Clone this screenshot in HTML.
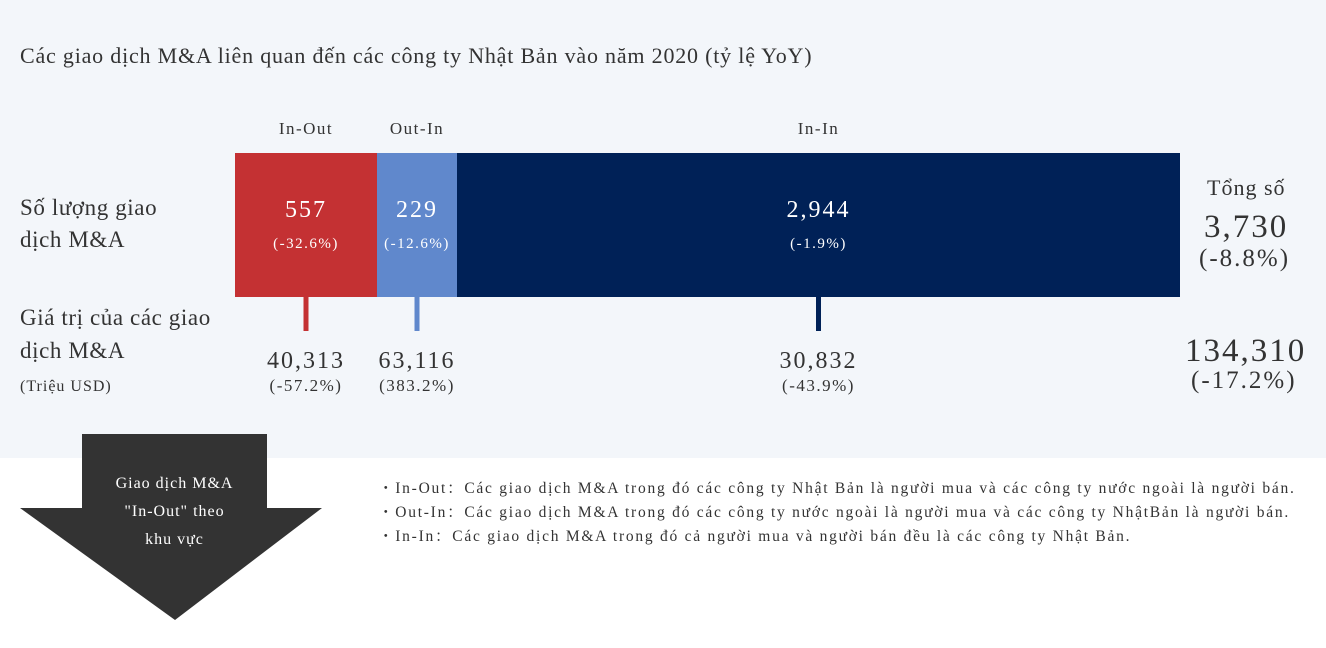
<!DOCTYPE html>
<html><head><meta charset="utf-8"><style>
body{margin:0;width:1326px;height:648px;background:#fff;font-family:"Liberation Serif","Noto Serif CJK SC",serif;color:#333;position:relative;overflow:hidden}
.bg{position:absolute;left:0;top:0;width:1326px;height:458px;background:#f3f6fa}
.t{position:absolute;white-space:nowrap;letter-spacing:1px}
</style></head><body>
<div class="bg"></div>
<div class="t" style="left:20px;top:43px;font-size:22px;letter-spacing:0.8px">Các giao dịch M&amp;A liên quan đến các công ty Nhật Bản vào năm 2020 (tỷ lệ YoY)</div>
<div class="t" style="left:20px;top:192px;font-size:23px;line-height:32px;letter-spacing:0.6px">Số lượng giao<br>dịch M&amp;A</div>
<div class="t" style="left:20px;top:301px;font-size:23px;line-height:33px;letter-spacing:0.6px">Giá trị của các giao<br>dịch M&amp;A<br><span style="font-size:16px;line-height:22px;letter-spacing:1px">(Triệu USD)</span></div>
<svg id="chart" width="1326" height="648" style="position:absolute;left:0;top:0"></svg>
<div class="t" style="left:1207px;top:175px;font-size:22px">Tổng số</div>
<div class="t" style="left:1204px;top:209px;font-size:33px;letter-spacing:2px">3,730</div>
<div class="t" style="left:1199px;top:245px;font-size:25px;letter-spacing:2px">(-8.8%)</div>
<div class="t" style="left:1185px;top:333px;font-size:33px;letter-spacing:2px">134,310</div>
<div class="t" style="left:1191px;top:367px;font-size:25px;letter-spacing:2px">(-17.2%)</div>
<svg width="330" height="200" style="position:absolute;left:0;top:430px">
<polygon points="82,4 267,4 267,78 322,78 175,190 20,78 82,78" fill="#333"/>
</svg>
<div class="t" style="left:82px;top:470px;width:185px;text-align:center;color:#fff;font-size:16px;line-height:28px">Giao dịch M&amp;A<br>"In-Out" theo<br>khu vực</div>
<div class="t" style="left:378px;top:477px;font-size:15.5px;line-height:24px;letter-spacing:1.75px">・In-Out：Các giao dịch M&amp;A trong đó các công ty Nhật Bản là người mua và các công ty nước ngoài là người bán.<br>・Out-In：Các giao dịch M&amp;A trong đó các công ty nước ngoài là người mua và các công ty NhậtBản là người bán.<br>・In-In：Các giao dịch M&amp;A trong đó cả người mua và người bán đều là các công ty Nhật Bản.</div>
<script>
const categories=["In-Out","Out-In","In-In"];
const counts=[557,229,2944];
const countYoY=["(-32.6%)","(-12.6%)","(-1.9%)"];
const values=[40313,63116,30832];
const valueYoY=["(-57.2%)","(383.2%)","(-43.9%)"];
const colors=["#c43133","#6088cc","#002157"];
const svg=document.getElementById('chart');
const NS="http://www.w3.org/2000/svg";
const X0=235,W=945,Y0=153,H=144,MINW=80;
const total=counts.reduce((a,b)=>a+b,0);
let raw=counts.map(v=>v/total*W);
let small=raw.map(w=>w<MINW);
let rest=W-small.filter(s=>s).length*MINW;
let bigSum=counts.filter((v,i)=>!small[i]).reduce((a,b)=>a+b,0);
let widths=counts.map((v,i)=>small[i]?MINW:Math.max(v/bigSum*rest,0));
if(widths[0]<142&&!small[0]){const d=142-widths[0];widths[0]=142;widths[2]-=d;}
function fmt(n){return n.toLocaleString('en-US');}
function txt(x,y,s,size,fill,name,ls){const t=document.createElementNS(NS,'text');t.setAttribute('x',x);t.setAttribute('y',y);t.setAttribute('text-anchor','middle');t.setAttribute('font-size',size);t.setAttribute('fill',fill);t.setAttribute('letter-spacing',ls);t.textContent=s;


svg.appendChild(t);}
let x=X0;
categories.forEach((c,i)=>{
const w=widths[i],cx=x+w/2;
const r=document.createElementNS(NS,'rect');
r.setAttribute('x',x);r.setAttribute('y',Y0);r.setAttribute('width',w);r.setAttribute('height',H);r.setAttribute('fill',colors[i]);


svg.appendChild(r);
const tk=document.createElementNS(NS,'rect');
tk.setAttribute('x',cx-2.5);tk.setAttribute('y',Y0+H);tk.setAttribute('width',5);tk.setAttribute('height',34);tk.setAttribute('fill',colors[i]);


svg.appendChild(tk);
txt(cx,134,c,17,'#333','category-label',1.5);
txt(cx,217,fmt(counts[i]),24,'#fff','count-value',2);
txt(cx,248,countYoY[i],15,'#fff','count-yoy',1.5);
txt(cx,368,fmt(values[i]),24,'#333','deal-value',2);
txt(cx,391,valueYoY[i],17,'#333','value-yoy',1.5);
x+=w;
});
</script>
</body></html>
